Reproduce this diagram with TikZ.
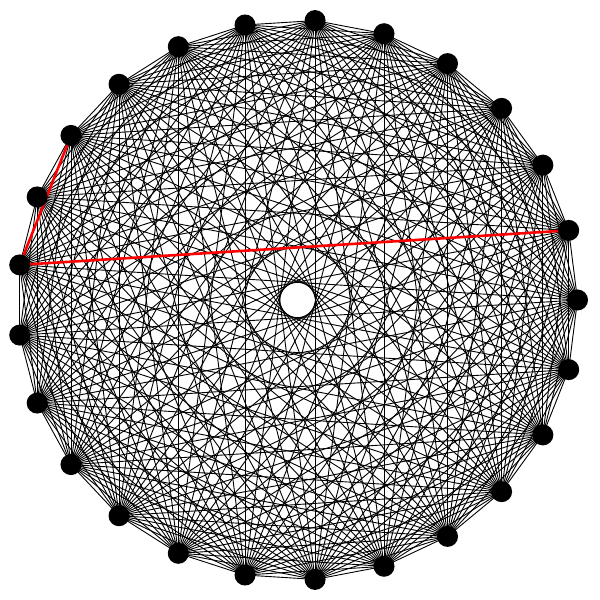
\documentclass[tikz,border=0pt]{standalone}
\usetikzlibrary{backgrounds}
\begin{document}
\begin{tikzpicture}[x=1pt,y=1pt,
 vert/.style={circle,fill=black,inner sep=0pt,minimum size=21pt},
 edge/.style={black,line width=0.9pt},
 hl/.style={red,line width=2.6pt}]
\useasboundingbox (0,0) rectangle (600,600);
\foreach \k in {0,...,24} {
  \node[vert] (n\k) at ({297.5+280*cos(14.4*\k)},{300+280*sin(14.4*\k)}) {};
}
\begin{scope}[on background layer]
\foreach \i in {0,...,23} {
  \pgfmathtruncatemacro\s{\i+1}
  \foreach \j in {\s,...,24} {
    \draw[edge] (n\i.center) -- (n\j.center);
  }
}
\draw[hl] (n10.center) -- (n12.center) -- (n1.center);
\end{scope}
\end{tikzpicture}
\end{document}
